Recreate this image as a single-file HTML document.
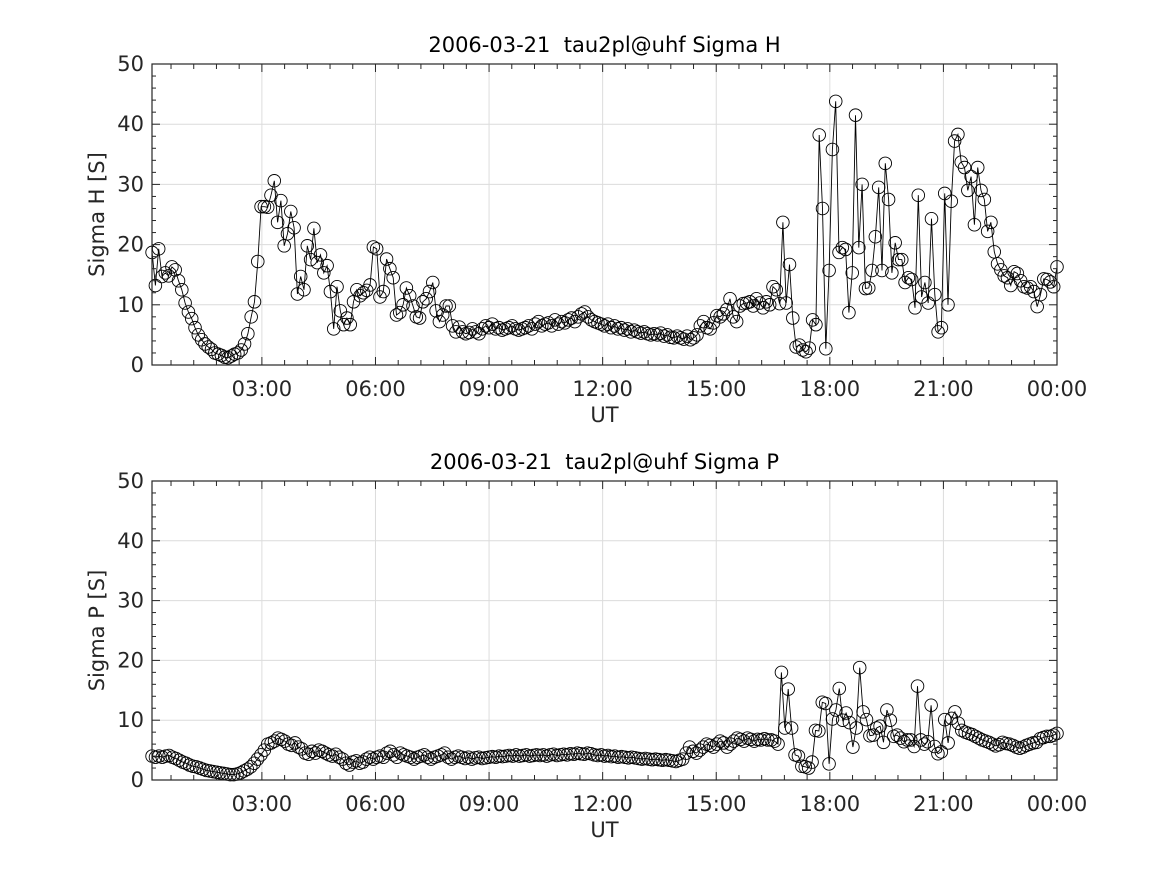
<!DOCTYPE html>
<html><head><meta charset="utf-8"><style>
html,body{margin:0;padding:0;background:#fff;}
svg{display:block;font-family:"DejaVu Sans","Liberation Sans",sans-serif;}
</style></head><body>
<svg id="chart" width="1167" height="875" viewBox="0 0 1167 875" xmlns="http://www.w3.org/2000/svg">
<rect x="0" y="0" width="1167" height="875" fill="#fff"/>
</svg>
<script>
const startHour = 0.1;
const endHour = 24.0;
const yTicks = [0,10,20,30,40,50];
const xTickHours = [3,6,9,12,15,18,21,24];
const xTickLabels = ["03:00","06:00","09:00","12:00","15:00","18:00","21:00","00:00"];
const titles = ["2006-03-21  tau2pl@uhf Sigma H","2006-03-21  tau2pl@uhf Sigma P"];
const yTitles = ["Sigma H [S]","Sigma P [S]"];
const sigmaH = [18.7,13.2,19.3,14.7,15.3,14.8,16.3,15.8,14,12.5,10.3,8.8,7.7,6.2,5,4.2,3.5,3,2.6,2,1.8,1.6,1.3,1.2,1.5,1.8,2,2.5,3.5,5.2,8,10.5,17.2,26.3,
26.3,26.2,28.2,30.6,23.7,27.3,19.8,21.8,25.5,22.8,11.8,14.7,12.5,19.8,17.5,22.7,17,18.3,15.3,16.5,12.2,6,13,9,6.7,7.8,6.7,10.5,12.5,11.5,12,12.4,13.3,19.6,19.3,11.3,12.2,17.6,16,14.5,8.3,8.7,10,12.8,11.5,9.8,8,7.8,10.5,11,12.2,13.7,9,7.2,8.3,9.8,9.8,6.5,5.5,6.3,
5.5,5.2,5.4,6,5.5,5.2,6,6.5,6.2,6.8,6,6.2,5.8,6,6.2,6.5,6,5.8,6,6.2,6.5,6,6.8,7.2,6.5,6.8,7,6.5,7.5,6.8,7.2,7,7.5,7.8,7.2,8,8.5,8.8,8,7.5,7.2,7,6.8,6.5,6.8,6.2,6.5,6,6.2,5.8,6,5.5,5.8,5.5,5.3,5.5,5.2,5,5.2,5,5.3,4.8,5,4.6,4.5,4.8,4.5,4.3,4.8,4.2,4.5,5,6.5,7.2,6.2,6,7,8.2,8,8.5,9.2,11,8,7.2,9.8,10.2,10.3,10.5,9.8,11,10.3,9.5,10.5,
10,13,12.5,10.2,23.7,10.3,16.7,7.8,3,3.3,2.5,2.2,2.8,7.5,6.7,38.2,26,2.7,15.7,35.8,43.8,18.7,19.5,19.2,8.7,15.3,41.5,19.5,30,12.7,12.8,15.7,21.3,29.5,15.7,33.5,27.5,15.3,20.3,17.5,17.5,13.7,14.5,14.2,9.5,28.2,11.3,13.7,10.3,24.3,11.7,5.5,6.2,28.5,10,27.2,37.2,38.3,33.7,32.8,29,31.3,23.3,32.8,29,27.5,22.2,23.7,18.8,16.8,15.8,14.8,14.5,13.2,15.5,15.2,14,13,12.8,13,12.2,9.7,11.7,14.3,14.2,13.8,13,16.3];
const sigmaP = [4,3.8,4,3.8,4,4.1,3.8,3.6,3.3,3,2.8,2.5,2.3,2.2,2,1.8,1.6,
1.5,1.4,1.3,1.2,1.1,1,0.9,0.9,1,1.2,1.5,1.8,2.2,2.8,3.5,4.2,
5,6,6.2,6.5,7,6.8,6.5,6,5.8,6.2,5.5,5.2,4.5,4.3,4.8,4.5,5,
4.8,4.5,4.2,4,4.3,3.8,3.5,2.8,2.5,3,3.2,2.8,3,3.5,3.8,3.5,
3.8,4,3.8,4.5,4.8,4.2,3.8,4.5,4.2,4,3.8,3.5,3.8,4,4.2,3.8,
3.5,3.8,4,4.2,4.5,3.8,3.5,3.8,4,3.8,3.6,3.8,3.5,3.7,3.8,3.6,
3.7,3.8,3.9,3.8,4,3.9,4,4.1,4,4.2,4,4.1,4.2,4,4.1,4.2,
4.1,4.2,4,4.2,4.3,4.1,4.2,4.3,4.2,4.4,
4.3,4.5,4.4,4.3,4.5,4.4,4.2,4.1,4.2,4,4.1,
3.9,4,3.8,3.9,3.8,3.7,3.8,3.7,3.6,3.5,3.6,3.5,3.4,3.5,
3.4,3.3,3.4,3.3,3.2,3.1,3.3,3.5,4.5,5.5,4.8,4.5,5,5.5,
6,5.8,5.5,6,6.5,6.2,5.5,6,6.5,7,6.8,6.5,7,6.8,6.5,6.8,
6.7,6.9,6.7,6.7,6.5,6,18,8.7,15.2,8.7,4.2,4,2.3,2.2,2,3,8.3,8.2,13,12.8,2.7,10.2,11.7,15.3,10,11.2,9.6,5.5,8.7,18.8,11.4,10.1,7.4,7.5,8.7,9,6.3,11.7,10,7.3,7.5,7,6.4,6.7,6.7,5.6,15.7,6.7,6,6.4,12.5,5.6,4.4,4.7,10.1,6.2,10.3,11.4,9.5,8.3,8,7.8,7.6,7.3,7,6.7,6.5,6.3,6,5.7,5.9,6.3,6.1,6,5.8,5.5,5.3,5.5,5.8,6,6.2,6.3,6.9,7.1,7.3,7.3,7.5,7.8];

const svg = document.getElementById('chart');
const NS = 'http://www.w3.org/2000/svg';
const L = 152, R = 1057;
const panels = [{top:64,bot:365,data:sigmaH},{top:481,bot:780,data:sigmaP}];
function xScale(h){ return 148.3 + h*(R-148.3)/24; }

panels.forEach((p, pi) => {
  const yScale = v => p.bot - v/50*(p.bot-p.top);
  const g = document.createElementNS(NS,'g');
  
  
  svg.appendChild(g);
  const add = (tag, attrs, text) => { const e=document.createElementNS(NS,tag); for(const k in attrs) e.setAttribute(k,attrs[k]); if(text!==undefined) e.textContent=text; g.appendChild(e); return e; };
  yTicks.forEach(v => { if(v>0 && v<50){ const gl=add('line',{x1:L,x2:R,y1:yScale(v),y2:yScale(v),stroke:'#dcdcdc','stroke-width':1});
      }});
  xTickHours.forEach(h => { const x=xScale(h); if(x<R-1){ const gl=add('line',{x1:x,x2:x,y1:p.top,y2:p.bot,stroke:'#dcdcdc','stroke-width':1});
      }});
  const hr = i => startHour + i*(endHour-startHour)/(p.data.length-1);
  const pts = p.data.map((v,i)=> xScale(hr(i)).toFixed(1)+','+yScale(v).toFixed(1));
  const line = add('polyline',{points:pts.join(' '),fill:'none',stroke:'#000','stroke-width':0.9});
  
  
  p.data.forEach((v,i)=>{
    const c=add('circle',{cx:xScale(hr(i)),cy:yScale(v),r:6.3,fill:'none',stroke:'#000','stroke-width':0.9});
      });
  const box = add('rect',{x:L,y:p.top,width:R-L,height:p.bot-p.top,fill:'none',stroke:'#262626','stroke-width':1.2});
   
  for(let v=0; v<=50; v+=2){ const y=yScale(v); const len = v%10===0 ? 8 : 4;
    add('line',{x1:L,x2:L+len,y1:y,y2:y,stroke:'#262626','stroke-width':1});
    add('line',{x1:R,x2:R-len,y1:y,y2:y,stroke:'#262626','stroke-width':1}); }
  yTicks.forEach(v => { const t=add('text',{x:L-8,y:yScale(v)+7,'text-anchor':'end','font-size':21,fill:'#262626'},String(v));
      });
  for(let h=0.6; h<=24.001; h+=0.6){ const x=xScale(h); if(x<L||x>R) continue; const len = Math.abs(h/3-Math.round(h/3))<0.01 ? 8 : 5;
    add('line',{x1:x,x2:x,y1:p.bot,y2:p.bot-len,stroke:'#262626','stroke-width':1});
    add('line',{x1:x,x2:x,y1:p.top,y2:p.top+len,stroke:'#262626','stroke-width':1}); }
  xTickHours.forEach((h,i) => { const t=add('text',{x:xScale(h),y:p.bot+31,'text-anchor':'middle','font-size':21,fill:'#262626'},xTickLabels[i]);
      });
  const xt = add('text',{x:(L+R)/2,y:p.bot+57,'text-anchor':'middle','font-size':21,fill:'#262626'},'UT');
   
  const yt = add('text',{x:0,y:0,'text-anchor':'middle','font-size':21,fill:'#262626',transform:`translate(104,${(p.top+p.bot)/2}) rotate(-90)`},yTitles[pi]);
   
  const tt = add('text',{x:(L+R)/2,y:p.top-12,'text-anchor':'middle','font-size':21,fill:'#000'},titles[pi]);
   
  tt.style.whiteSpace = 'pre';
});
</script>
</body></html>
